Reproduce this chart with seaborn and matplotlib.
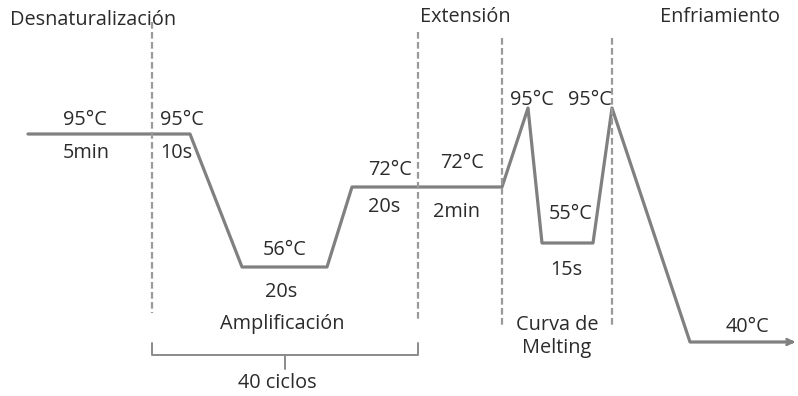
import matplotlib
matplotlib.use("Agg")
import matplotlib.pyplot as plt
import seaborn as sns
import pandas as pd

# thermal profile (schematic units: x = time position, y = level, drawn top-down)
profile_x = [28, 190, 242, 327, 352, 502, 528, 542, 593, 612, 690, 790]
profile_y = [134, 134, 267, 267, 187, 187, 108, 243, 243, 108, 342, 342]

# phase separators
sep_x = [152, 418, 502, 612]
sep_top = [22, 32, 38, 38]
sep_bottom = [313, 320, 325, 325]

# phase titles
phase_labels = ["Desnaturalización", "Extensión", "Enfriamiento"]
phase_x = [10, 420, 660]
phase_y = [20, 17, 17]

# step annotations
step_labels = ["95°C", "5min", "95°C", "10s", "56°C", "20s", "Amplificación",
               "72°C", "20s", "72°C", "2min", "95°C", "95°C", "55°C", "15s",
               "Curva de\nMelting", "40°C", "40 ciclos"]
step_x = [85, 86, 182, 176, 285, 281, 282, 390, 384, 462, 457, 532, 590, 571, 566, 557, 747, 277]
step_y = [120, 153, 120, 153, 250, 292, 324, 170, 207, 163, 212, 100, 100, 214, 270, 337, 327, 383]

sns.set_style("white")
plt.rcParams["font.family"] = ["Open Sans", "DejaVu Sans"]

fig = plt.figure(figsize=(7.98, 3.96), dpi=100)
ax = fig.add_axes([0, 0, 1, 1])

line_col = "#808080"
text_col = "#2b2b2b"
fs = 14.3

df = pd.DataFrame({"t": profile_x, "level": profile_y})
sns.lineplot(data=df, x="t", y="level", sort=False, color=line_col, linewidth=2.3, ax=ax)
ax.annotate("", xy=(798, profile_y[-1]), xytext=(profile_x[-1] - 2, profile_y[-1]),
            arrowprops=dict(arrowstyle="->", color=line_col, lw=2.0))

for x, top, bot in zip(sep_x, sep_top, sep_bottom):
    ax.plot([x, x], [top, bot], color="#9a9a9a", linewidth=1.6, linestyle=(0, (3, 1.5)))

# bracket for 40 cycles
br_left, br_right, br_top, br_bot, br_mid = sep_x[0], sep_x[1], 343, 355, 285
ax.plot([br_left, br_left, br_right, br_right], [br_top, br_bot, br_bot, br_top],
        color="#8a8a8a", linewidth=1.4)
ax.plot([br_mid, br_mid], [br_bot, br_bot + 14], color="#8a8a8a", linewidth=1.4)

for lab, x, y in zip(phase_labels, phase_x, phase_y):
    ax.text(x, y, lab, ha="left", va="center", fontsize=fs, color=text_col)

for lab, x, y in zip(step_labels, step_x, step_y):
    ax.text(x, y, lab, ha="center", va="center", fontsize=fs, color=text_col,
            linespacing=1.2)

ax.set_xlim(0, 798)
ax.set_ylim(396, 0)
ax.set_axis_off()

fig.savefig("out.png", dpi=100)
